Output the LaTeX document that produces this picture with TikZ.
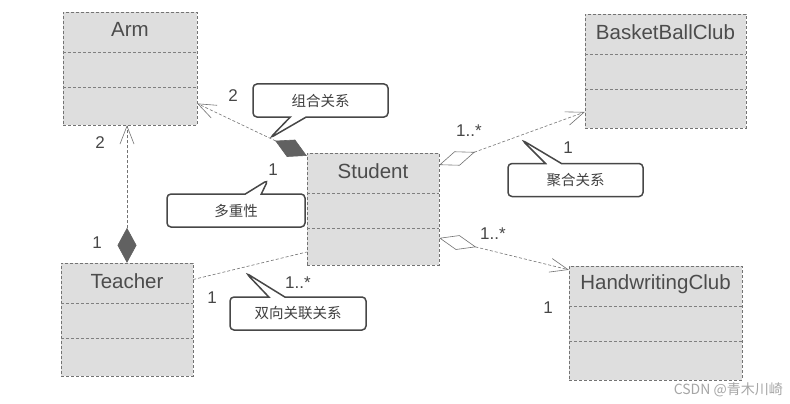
\documentclass[tikz,border=0pt]{standalone}
\usepackage{fontspec}
\setmainfont{Liberation Sans}
\newfontfamily\cjk{Noto Sans CJK SC}
\usetikzlibrary{positioning,arrows.meta,calc,shapes.callouts}

\begin{document}
\begin{tikzpicture}[x=1pt,y=-1pt,
  cls/.style={draw=black!55,densely dashed,fill=black!13,inner sep=0pt},
  cname/.style={font=\fontsize{20.5}{24}\selectfont,text=black!70,inner sep=1pt},
  div/.style={draw=black!50,densely dashed},
  link/.style={draw=black!55,densely dashed,line width=0.6pt},
  mult/.style={font=\fontsize{17}{20}\selectfont,text=black!72,inner sep=1pt},
  comp/.style={{Diamond[length=35pt,width=19pt,color=black!62,fill=black!62]}-{Straight Barb[length=18pt,width=14pt]}},
  aggr/.style={{Diamond[open,length=38pt,width=15pt]}-{Straight Barb[length=18pt,width=14pt]}},
  note/.style={rectangle callout,draw=black!72,line width=1.5pt,fill=white,rounded corners=4pt,
    callout pointer width=16pt,minimum height=33pt,minimum width=135pt,
    font=\cjk\fontsize{14.5}{17}\selectfont,text=black!75}]
\useasboundingbox[fill=white] (0,0) rectangle (790,404);
% ===== classes =====
\node[cls,minimum width=134pt,minimum height=113pt] (arm) at (130,68.5) {};
\node[cls,minimum width=161pt,minimum height=114pt] (bbc) at (665.5,71) {};
\node[cls,minimum width=132pt,minimum height=112pt] (stu) at (373,209) {};
\node[cls,minimum width=132pt,minimum height=113pt] (tea) at (127,319.5) {};
\node[cls,minimum width=173pt,minimum height=114pt] (hwc) at (655.5,323) {};
% compartments and class names
\foreach \c/\t in {arm/Arm,bbc/BasketBallClub,stu/Student,tea/Teacher,hwc/HandwritingClub}{
  \draw[div] ([yshift=-40pt]\c.north west) -- ([yshift=-40pt]\c.north east);
  \draw[div] ([yshift=-75pt]\c.north west) -- ([yshift=-75pt]\c.north east);
  \node[cname] (\c-name) at ([yshift=-18pt]\c.north) {\t};
}
% ===== relations =====
\draw[link,comp] ([yshift=-3pt]stu.north west) -- ([yshift=-35pt]arm.east);
\draw[link,comp] (tea.north) -- (tea.north |- arm.south);
\draw[link,aggr] ([yshift=44pt]stu.east) -- ([yshift=-41pt]bbc.west);
\draw[link,aggr] ([yshift=-29pt]stu.east) -- ([yshift=-4pt]hwc.north west);
\draw[link] ([yshift=40pt]tea.east) -- ([yshift=-43pt]stu.west);
% multiplicities
\node[mult] (m-arm-stu) at (233,96) {2};
\node[mult] (m-stu-arm) at (273,170) {1};
\node[mult] (m-arm-tea) at (100,143) {2};
\node[mult] (m-tea-arm) at (97,243) {1};
\node[mult] (m-stu-bbc) at (469,131) {1..*};
\node[mult] (m-bbc-stu) at (568,148) {1};
\node[mult] (m-stu-hwc) at (493,234) {1..*};
\node[mult] (m-hwc-stu) at (548,308) {1};
\node[mult] (m-tea-stu) at (212,298) {1};
\node[mult] (m-stu-tea) at (298,283) {1..*};
% ===== callouts =====
\node[note,callout absolute pointer={(270,138)}] (n-comp) at (320.5,100.5) {组合关系};
\node[note,callout absolute pointer={(522,140)}] (n-aggr) at (575.5,180) {聚合关系};
\node[note,minimum width=138pt,callout absolute pointer={(268,180)}] (n-mult) at (236,210.5) {多重性};
\node[note,minimum width=136pt,callout absolute pointer={(246,273)}] (n-assoc) at (298,313.5) {双向关联关系};
\node[font=\cjk\fontsize{14}{16}\selectfont,text=black!35,anchor=east,inner sep=0pt] (wm) at (783,390) {CSDN @青木川崎};
\end{tikzpicture}
\end{document}
